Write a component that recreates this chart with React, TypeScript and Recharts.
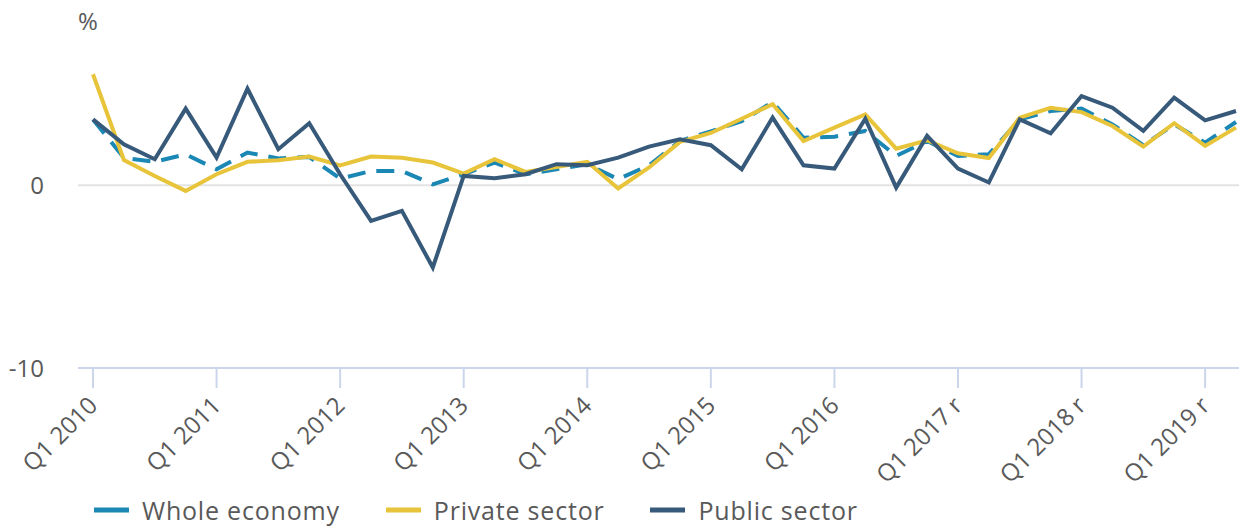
import { LineChart, Line, XAxis, YAxis, CartesianGrid, Legend } from "recharts";

const years = [2010, 2011, 2012, 2013, 2014, 2015, 2016, 2017, 2018, 2019];

const quarters = years
  .flatMap((yr) => [1, 2, 3, 4].map((q) => `Q${q} ${yr}${yr >= 2017 ? " r" : ""}`))
  .slice(0, 38);

const wholeEconomy = [
  3.6, 1.5, 1.28, 1.69, 0.87, 1.79, 1.46, 1.55, 0.36, 0.78, 0.78, 0.05, 0.6, 1.24, 0.6, 0.87,
  1.15, 0.33, 1.09, 2.42, 2.95, 3.5, 4.55, 2.6, 2.65, 2.97, 1.6, 2.42, 1.6, 1.7, 3.6, 4.06,
  4.19, 3.33, 2.19, 3.33, 2.33, 3.46,
];

const privateSector = [
  6.07, 1.38, 0.5, -0.31, 0.6, 1.28, 1.37, 1.57, 1.09, 1.57, 1.5, 1.24, 0.64, 1.42, 0.73, 1.0,
  1.28, -0.18, 0.97, 2.37, 2.86, 3.64, 4.43, 2.42, 3.15, 3.88, 2.0, 2.46, 1.75, 1.49, 3.7, 4.24,
  4.0, 3.24, 2.11, 3.39, 2.15, 3.15,
];

const publicSector = [
  3.6, 2.24, 1.42, 4.19, 1.51, 5.28, 1.97, 3.39, 0.6, -1.95, -1.4, -4.5, 0.51, 0.38, 0.6, 1.15,
  1.09, 1.51, 2.11, 2.51, 2.19, 0.87, 3.7, 1.09, 0.91, 3.64, -0.13, 2.7, 0.91, 0.15, 3.6, 2.84,
  4.88, 4.24, 2.97, 4.79, 3.55, 4.06,
];

const yTicks = [-10, 0];

const data = quarters.map((quarter, i) => ({
  quarter,
  whole: wholeEconomy[i],
  private: privateSector[i],
  public: publicSector[i],
}));

const FONT = "'Open Sans', sans-serif";
const TEXT = "#595959";
const AXIS = "#ccd6eb";

const series = [
  { key: "whole", name: "Whole economy", color: "#1a87b4", dash: "18 11" },
  { key: "private", name: "Private sector", color: "#e8c43a", dash: undefined },
  { key: "public", name: "Public sector", color: "#385a7a", dash: undefined },
];

const QuarterTick = ({ x, y, payload }: any) => {
  const tx = x + 6;
  const ty = y + 17;
  return (
    <text
      x={tx}
      y={ty}
      transform={`rotate(-45, ${tx}, ${ty})`}
      textAnchor="end"
      fill={TEXT}
      fontSize={24}
      fontFamily={FONT}
    >
      {payload.value}
    </text>
  );
};

const LegendContent = () => (
  <div
    style={{
      display: "flex",
      alignItems: "center",
      boxSizing: "border-box",
      height: 37,
      paddingTop: 2,
      paddingLeft: 86,
      fontFamily: FONT,
      fontSize: 25,
      letterSpacing: 0.8,
      lineHeight: "30px",
      color: TEXT,
      whiteSpace: "nowrap",
    }}
  >
    {series.map((s) => (
      <div key={s.key} style={{ display: "flex", alignItems: "center", marginRight: 46 }}>
        <svg width={35} height={6} style={{ marginRight: 13 }}>
          <line x1={0} y1={3} x2={35} y2={3} stroke={s.color} strokeWidth={5} />
        </svg>
        <span>{s.name}</span>
      </div>
    ))}
  </div>
);

const App = () => {
  return (
    <div style={{ position: "relative", width: 1239, height: 519 }}>
      <div
        style={{
          position: "absolute",
          left: 70,
          top: 1,
          fontFamily: FONT,
          fontSize: 24,
          lineHeight: "24px",
          color: TEXT,
        }}
      >
        %
      </div>
      <LineChart width={1239} height={519} data={data} margin={{ top: 31, right: 0, bottom: 0, left: 0 }}>
        <CartesianGrid vertical={false} horizontalValues={[0]} stroke="#e3e3e3" strokeWidth={2} />
        <XAxis
          dataKey="quarter"
          interval={3}
          tickSize={20}
          tickMargin={2}
          height={122}
          padding={{ left: 15, right: 11 }}
          axisLine={{ stroke: AXIS, strokeWidth: 2 }}
          tickLine={{ stroke: AXIS, strokeWidth: 2 }}
          tick={<QuarterTick />}
        />
        <YAxis
          domain={[-10, 8]}
          ticks={yTicks}
          width={70}
          axisLine={false}
          tickLine={false}
          tickMargin={28}
          tick={{ fill: TEXT, fontSize: 24, fontFamily: FONT }}
        />
        <Legend verticalAlign="bottom" height={37} content={<LegendContent />} />
        {series.map((s) => (
          <Line
            key={s.key}
            type="linear"
            dataKey={s.key}
            name={s.name}
            stroke={s.color}
            strokeWidth={4}
            strokeDasharray={s.dash}
            dot={false}
            activeDot={false}
            isAnimationActive={false}
          />
        ))}
      </LineChart>
    </div>
  );
};

export default App;
